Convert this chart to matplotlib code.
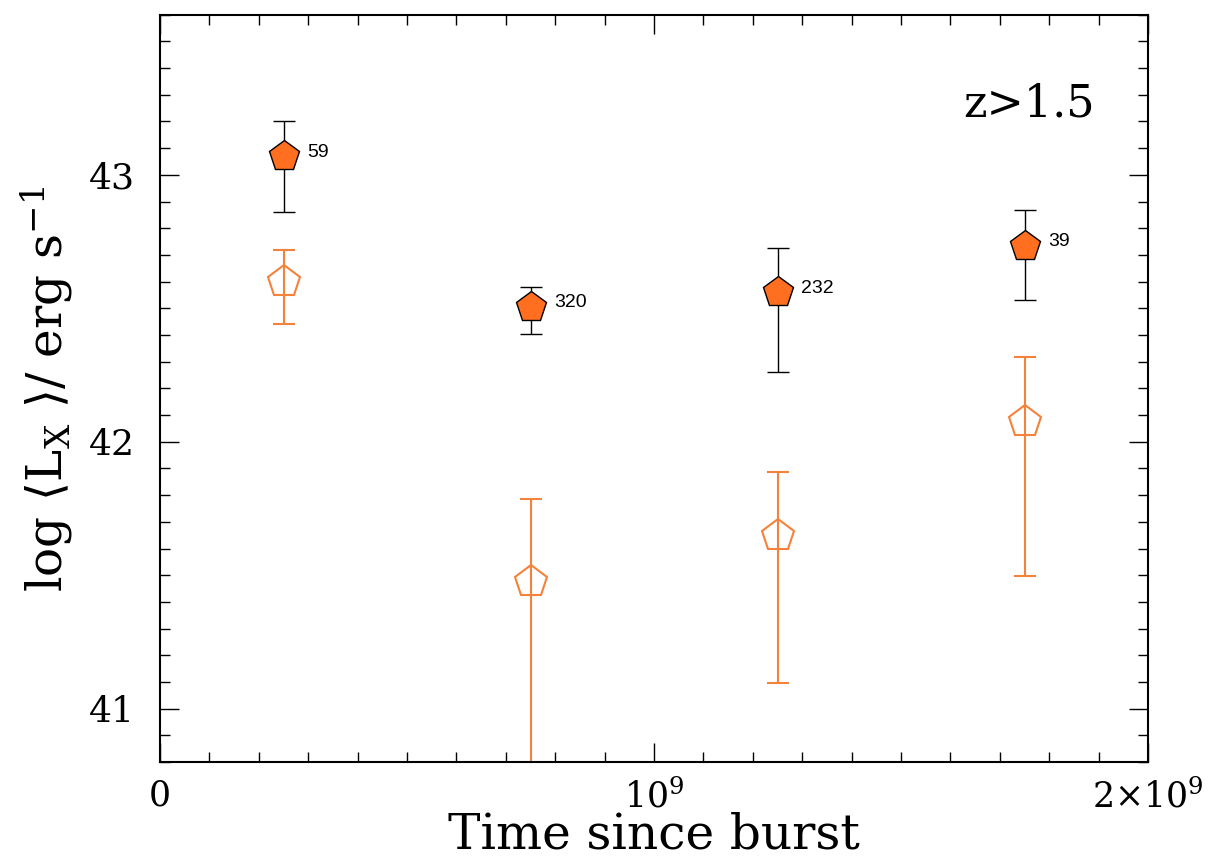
import numpy as np
import matplotlib
matplotlib.use('Agg')
import matplotlib.pyplot as plt
from matplotlib.ticker import MultipleLocator, FixedLocator, FixedFormatter

plt.rcParams['font.family'] = ['DejaVu Serif']
plt.rcParams['mathtext.fontset'] = 'dejavuserif'

# data
t = np.array([0.25e9, 0.75e9, 1.25e9, 1.75e9])
labels = ['59', '320', '232', '39']

y_fill = np.array([43.07, 42.505, 42.56, 42.735])
up_fill = np.array([43.20, 42.58, 42.725, 42.87])
lo_fill = np.array([42.86, 42.405, 42.26, 42.53])

y_open = np.array([42.60, 41.476, 41.647, 42.074])
up_open = np.array([42.72, 41.784, 41.885, 42.316])
lo_open = np.array([42.44, 40.5, 41.097, 41.498])

orange = '#FF6F1F'
orange2 = '#F5823A'

fig = plt.figure(figsize=(12.16, 8.65), dpi=100)
ax = fig.add_axes([0.1316, 0.119, 0.8125, 0.864])

ax.errorbar(t, y_open, yerr=[y_open - lo_open, up_open - y_open], fmt='p',
            ms=24, mfc='none', mec=orange2, mew=1.5, ecolor=orange2,
            elinewidth=1.5, capsize=8, capthick=1.5, zorder=2)
ax.errorbar(t, y_fill, yerr=[y_fill - lo_fill, up_fill - y_fill], fmt='p',
            ms=23, mfc=orange, mec='black', mew=1.0, ecolor='black',
            elinewidth=1.0, capsize=8, capthick=1.0, zorder=3)

for xi, yi, lab in zip(t, y_fill, labels):
    ax.annotate(lab, (xi, yi), xytext=(17, 3), textcoords='offset points',
                ha='left', va='center', fontsize=14, family='Liberation Sans')

ax.text(0.946, 0.88, 'z>1.5', transform=ax.transAxes, ha='right',
        va='center', fontsize=32)

ax.set_xlim(0, 2e9)
ax.set_ylim(40.8, 43.6)

ax.xaxis.set_major_locator(FixedLocator([0, 1e9, 2e9]))
ax.xaxis.set_major_formatter(FixedFormatter(['0', r'$10^9$', r'$2{\times}10^9$']))
ax.xaxis.set_minor_locator(MultipleLocator(1e8))
ax.yaxis.set_major_locator(MultipleLocator(1))
ax.yaxis.set_minor_locator(MultipleLocator(0.1))
ax.yaxis.set_major_formatter(plt.FuncFormatter(lambda v, p: '%d' % v))

ax.tick_params(which='both', direction='in', top=True, right=True, width=1.0)
ax.tick_params(which='major', length=14)
ax.tick_params(which='minor', length=7)
ax.tick_params(axis='x', labelsize=25, pad=12)
ax.tick_params(axis='y', labelsize=26, pad=18)
for s in ax.spines.values():
    s.set_linewidth(1.5)

ax.set_xlabel('Time since burst', fontsize=35, labelpad=-2)
ax.set_ylabel(r'log $\langle$L$_{\rm X}$ $\rangle$/ erg s$^{-1}$', fontsize=35, labelpad=10)

fig.savefig('out.png', dpi=100)
